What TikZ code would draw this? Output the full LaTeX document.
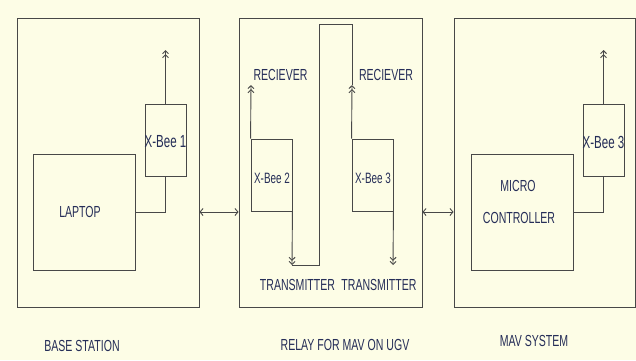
\documentclass[tikz,border=0pt]{standalone}
\usepackage{fontspec}
\setmainfont[FakeStretch=0.66]{Liberation Sans}
\usetikzlibrary{arrows.meta}
\definecolor{bgc}{RGB}{253,253,230}
\definecolor{linec}{RGB}{72,72,72}
\definecolor{txtc}{RGB}{38,46,88}
\begin{document}
\begin{tikzpicture}[x=1pt,y=-1pt,
  box/.style={draw=linec,line width=0.9pt,inner sep=0pt,anchor=center},
  lbl/.style={text=txtc,inner sep=0pt,font=\fontsize{16}{16}\selectfont},
  bigl/.style={text=txtc,inner sep=0pt,font=\fontsize{17.5}{17.5}\selectfont},
  smalll/.style={text=txtc,inner sep=0pt,font=\fontsize{15}{15}\selectfont},
  wire/.style={draw=linec,line width=0.9pt},
  upar/.style={wire,-{Straight Barb[length=3pt,width=6pt]Straight Barb[length=3pt,width=6pt]}},
  link/.style={wire,{Straight Barb[length=3pt,width=7pt]}-{Straight Barb[length=3pt,width=7pt]}}]
\fill[bgc] (0,0) rectangle (636,360);
\useasboundingbox (0,0) rectangle (636,360);
% outer boxes
\node[box,minimum width=182pt,minimum height=289pt] (base) at (108,162.5) {};
\node[box,minimum width=183pt,minimum height=289pt] (relay) at (330.5,162.5) {};
\node[box,minimum width=181pt,minimum height=289pt] (mav) at (544.5,162.5) {};
% base station
\node[box,minimum width=102pt,minimum height=116pt] (laptop) at (84,212) {};
\node[lbl] (laptopt) at (80,212) {LAPTOP};
\node[box,minimum width=41pt,minimum height=72pt] (xb1) at (165.5,140) {};
\node[bigl] (xb1t) at (165.5,142) {X-Bee 1};
\coordinate (ant1) at (165.5,50);
\draw[upar] (xb1.north) -- (ant1);
\draw[wire] (laptop.east) -| (xb1.south);
% relay
\node[box,minimum width=41pt,minimum height=72pt] (xb2) at (271.5,175) {};
\node[smalll] (xb2t) at (272,178) {X-Bee 2};
\node[box,minimum width=41pt,minimum height=72pt] (xb3m) at (372.5,175) {};
\node[smalll] (xb3mt) at (373,178) {X-Bee 3};
\coordinate (rx2) at (251,85);
\coordinate (tx2) at (292,265);
\coordinate (rx3) at (352,85);
\coordinate (tx3) at (393,265);
\draw[upar] (xb2.north west) -- (rx2);
\draw[upar] (xb2.south east) -- (tx2);
\draw[upar] (xb3m.north west) -- (rx3);
\draw[upar] (xb3m.south east) -- (tx3);
\coordinate (j1) at (319,265);
\coordinate (j2) at (319,24);
\coordinate (j3) at (352,24);
\draw[wire] (tx2) -- (j1) -- (j2) -- (j3) -- (rx3);
\node[lbl] (rec2) at (280.5,75) {RECIEVER};
\node[lbl] (rec3) at (386,75) {RECIEVER};
\node[lbl] (trn2) at (297.5,284.5) {TRANSMITTER};
\node[lbl] (trn3) at (379,284.5) {TRANSMITTER};
% mav system
\node[box,minimum width=102pt,minimum height=116pt] (micro) at (522,212) {};
\node[lbl] (microt) at (518,186) {MICRO};
\node[lbl] (contt) at (519,218) {CONTROLLER};
\node[box,minimum width=41pt,minimum height=72pt] (xb3r) at (603.5,140) {};
\node[bigl] (xb3rt) at (603.5,142) {X-Bee 3};
\coordinate (ant3) at (603.5,50);
\draw[upar] (xb3r.north) -- (ant3);
\draw[wire] (micro.east) -| (xb3r.south);
% links
\draw[link] (base.east |- laptop.east) -- (relay.west |- laptop.east);
\draw[link] (relay.east |- micro.east) -- (mav.west |- micro.east);
% captions
\node[lbl] (cap1) at (82,345.5) {BASE STATION};
\node[lbl] (cap2) at (345,344.5) {RELAY FOR MAV ON UGV};
\node[lbl] (cap3) at (534,341) {MAV SYSTEM};
\end{tikzpicture}
\end{document}
